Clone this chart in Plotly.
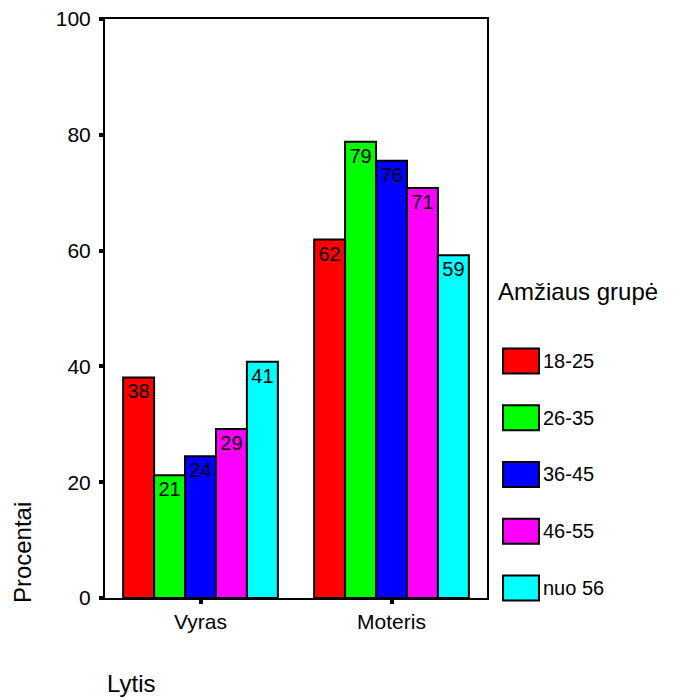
import plotly.graph_objects as go

categories = ["Vyras", "Moteris"]
groups = ["18-25", "26-35", "36-45", "46-55", "nuo 56"]
colors = ["#FF0000", "#00FF00", "#0000FF", "#FF00FF", "#00FFFF"]
values = {
    "18-25": [38.1, 61.9],
    "26-35": [21.2, 78.8],
    "36-45": [24.5, 75.5],
    "46-55": [29.2, 70.8],
    "nuo 56": [40.8, 59.2],
}
y_ticks = [0, 20, 40, 60, 80, 100]

FONT = "Liberation Sans, Arial, sans-serif"

fig = go.Figure()
for g, c in zip(groups, colors):
    vals = values[g]
    fig.add_trace(go.Bar(
        x=categories, y=vals, name=g,
        marker=dict(color=c, line=dict(color="black", width=2)),
        text=[f"{v:.0f}" for v in vals],
        textposition="inside", insidetextanchor="end", textangle=0,
        constraintext="none",
        textfont=dict(family=FONT, size=20, color="black"),
        showlegend=False,
    ))

# custom legend (large swatches)
shapes = []
annotations = [dict(text="Amžiaus grupė", x=1.023, y=0.5285, xref="paper", yref="paper",
                    xanchor="left", yanchor="middle", showarrow=False,
                    font=dict(family=FONT, size=24, color="black"))]
y0 = 0.4093
step = 0.0980
for i, (g, c) in enumerate(zip(groups, colors)):
    yc = y0 - i * step
    shapes.append(dict(type="rect", xref="paper", yref="paper",
                       x0=1.042, x1=1.136, y0=yc - 0.0216, y1=yc + 0.0216,
                       fillcolor=c, line=dict(color="black", width=2)))
    annotations.append(dict(text=g, x=1.142, y=yc, xref="paper", yref="paper",
                            xanchor="left", yanchor="middle", showarrow=False,
                            font=dict(family=FONT, size=20, color="black")))

annotations.append(dict(text="Procentai", x=-0.217, y=0.0777, xref="paper", yref="paper",
                        xanchor="center", yanchor="middle", textangle=-90, showarrow=False,
                        font=dict(family=FONT, size=24, color="black")))
annotations.append(dict(text="Lytis", x=0.068, y=-0.1485, xref="paper", yref="paper",
                        xanchor="center", yanchor="middle", showarrow=False,
                        font=dict(family=FONT, size=24, color="black")))

fig.update_layout(
    width=675, height=700,
    margin=dict(l=97, r=196, t=11, b=110),
    paper_bgcolor="white", plot_bgcolor="white",
    barmode="group", bargap=0.19, bargroupgap=0,
    shapes=shapes, annotations=annotations,
    font=dict(family=FONT, color="black"),
)
fig.update_yaxes(range=[0, 100], tickvals=y_ticks, showgrid=False, zeroline=False,
                 showline=True, linecolor="black", linewidth=2, mirror=True,
                 ticks="outside", ticklen=4, tickwidth=4, tickcolor="black",
                 ticklabelstandoff=4, automargin=False, ticklabeloverflow="allow",
                 tickfont=dict(family=FONT, size=21, color="black"))
fig.update_xaxes(showgrid=False, showline=True, linecolor="black", linewidth=2, mirror=True,
                 ticks="outside", ticklen=4, tickwidth=4, tickcolor="black",
                 automargin=False, ticklabeloverflow="allow",
                 tickfont=dict(family=FONT, size=21, color="black"))

fig.write_html("out.html")
